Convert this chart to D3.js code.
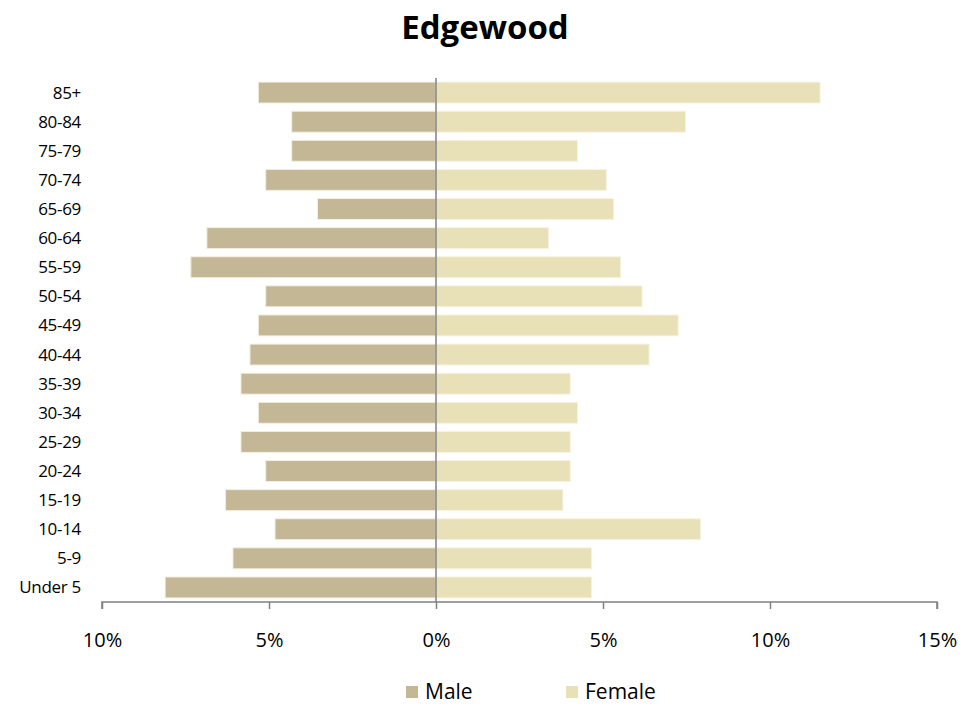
<!DOCTYPE html>
<html>
<head>
<meta charset="utf-8">
<script src="https://cdn.jsdelivr.net/npm/d3@7.9.0/dist/d3.min.js"></script>
<style>
  body { margin: 0; background: #fff; }
  text { font-family: "Open Sans", "Noto Sans", sans-serif; fill: #000; }
</style>
</head>
<body>
<svg width="979" height="713"></svg>
<script>
// age groups, top to bottom
const ageGroups = ['85+', '80-84', '75-79', '70-74', '65-69', '60-64', '55-59', '50-54',
  '45-49', '40-44', '35-39', '30-34', '25-29', '20-24', '15-19', '10-14', '5-9', 'Under 5'];
const male = [5.32, 4.32, 4.32, 5.1, 3.55, 6.86, 7.34, 5.1, 5.32, 5.57, 5.84, 5.32, 5.84, 5.1, 6.3, 4.82, 6.08, 8.11];
const female = [11.5, 7.47, 4.24, 5.1, 5.32, 3.37, 5.53, 6.17, 7.25, 6.38, 4.02, 4.24, 4.02, 4.02, 3.8, 7.92, 4.66, 4.66];
const xTicks = [-10, -5, 0, 5, 10, 15];
const series = [
  { name: 'Male', color: '#c4b796' },
  { name: 'Female', color: '#e8e1b7' }
];

const svg = d3.select('svg');

const x = d3.scaleLinear().domain([-10, 15]).range([102, 937]);
const y = d3.scaleBand().domain(ageGroups).range([78, 602]).paddingInner(0.28).paddingOuter(0.14);

// title
svg.append('text')
  .attr('x', 485).attr('y', 39)
  .attr('text-anchor', 'middle')
  .style('font-size', '33px').style('font-weight', 'bold')
  .text('Edgewood');

// bars
ageGroups.forEach((g, i) => {
  svg.append('rect')
    .attr('x', x(-male[i])).attr('y', y(g))
    .attr('width', x(0) - x(-male[i])).attr('height', y.bandwidth())
    .attr('fill', series[0].color)
    .attr('stroke', '#f3efe2').attr('stroke-width', 1);
  svg.append('rect')
    .attr('x', x(0)).attr('y', y(g))
    .attr('width', x(female[i]) - x(0)).attr('height', y.bandwidth())
    .attr('fill', series[1].color)
    .attr('stroke', '#f7f3e4').attr('stroke-width', 1);
});

// category labels
ageGroups.forEach((g) => {
  svg.append('text')
    .attr('x', 81).attr('y', y(g) + y.bandwidth() / 2)
    .attr('dy', '0.35em')
    .attr('text-anchor', 'end')
    .style('font-size', '17px')
    .style('letter-spacing', '-0.3px')
    .text(g);
});

// zero line
svg.append('line')
  .attr('x1', x(0)).attr('x2', x(0))
  .attr('y1', 78).attr('y2', 602)
  .attr('stroke', '#808080').attr('stroke-width', 1.5);

// x axis
const xAxis = d3.axisBottom(x)
  .tickValues(xTicks)
  .tickSize(7)
  .tickFormat((d) => Math.abs(d) + '%');
const ax = svg.append('g')
  .attr('transform', 'translate(0,602)')
  .call(xAxis);
ax.select('.domain').attr('stroke', '#808080').attr('stroke-width', 1.5)
  .attr('d', `M${x(-10)},7V0H${x(15)}V7`);
ax.selectAll('.tick line').attr('stroke', '#808080').attr('stroke-width', 1.5);
ax.selectAll('.tick text')
  .attr('y', 31)
  .style('font-size', '20px')
  .style('font-family', '"Open Sans", "Noto Sans", sans-serif')
  .attr('fill', '#000');

// legend
const legendX = [406, 566];
series.forEach((s, i) => {
  svg.append('rect')
    .attr('x', legendX[i]).attr('y', 686)
    .attr('width', 12).attr('height', 12)
    .attr('fill', s.color);
  svg.append('text')
    .attr('x', legendX[i] + 19).attr('y', 692)
    .attr('dy', '0.35em')
    .style('font-size', '21px')
    .text(s.name);
});
</script>
</body>
</html>
